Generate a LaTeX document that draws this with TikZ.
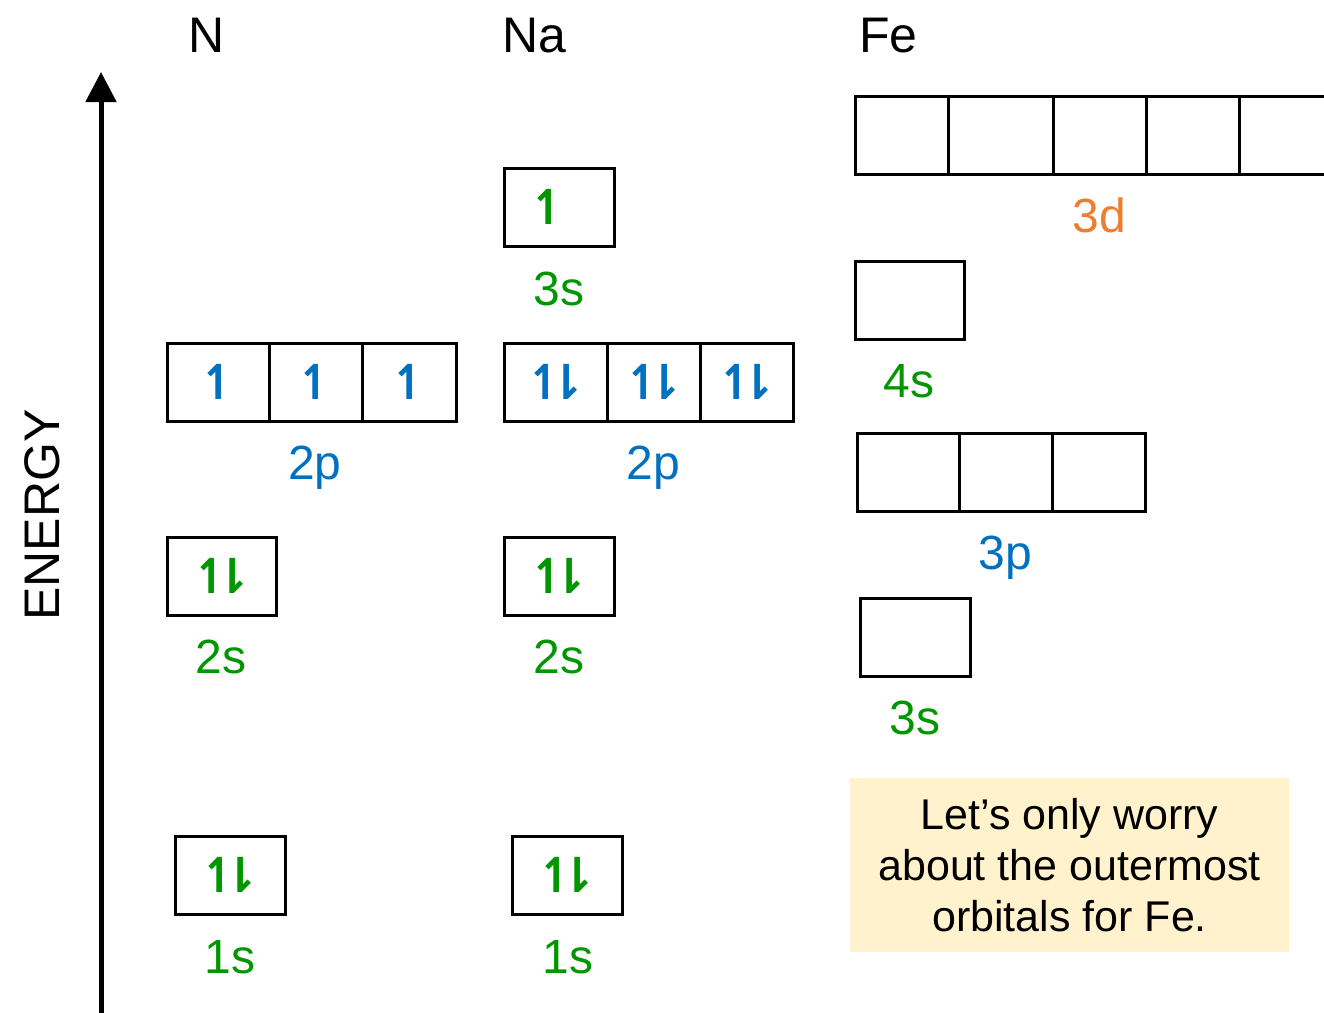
\documentclass[tikz,border=0pt]{standalone}
\usepackage{fontspec}
\setmainfont{Liberation Sans}
\newfontfamily\spinfont{DejaVu Sans Bold}
\usetikzlibrary{arrows.meta}

\definecolor{sgreen}{RGB}{0,150,0}
\definecolor{pblue}{RGB}{0,112,192}
\definecolor{dorange}{RGB}{237,125,49}
\definecolor{notefill}{RGB}{255,242,204}

\newcommand{\spinup}{↿}
\newcommand{\spinpair}{↿\kern-0.4em⇂}
\newcommand{\spinleft}{↿\kern-0.4em\phantom{⇂}}

\begin{document}
\begin{tikzpicture}[x=1pt,y=-1pt,
	orb/.style={draw, line width=2.5pt, minimum height=78pt, inner sep=0pt, anchor=north west,
		font=\spinfont\fontsize{48}{52}\selectfont},
	lbl/.style={font=\fontsize{48}{52}\selectfont, inner sep=0pt, anchor=base},
	elem/.style={font=\fontsize{50}{54}\selectfont, inner sep=0pt, anchor=base west}]
	\useasboundingbox (0,0) rectangle (1324,1012);

	% Energy axis
	\coordinate (axbot) at (101,1015);
	\coordinate (axtop) at (101,72);
	\draw [line width=5pt, -{Triangle[width=30pt,length=30pt]}] (axbot) -- (axtop);
	\node [rotate=90, font=\fontsize{50}{54}\selectfont, inner sep=0pt] (energy) at (42,515) {ENERGY};

	% Element names
	\node [elem] (nameN) at (188,52) {N};
	\node [elem] (nameNa) at (502,52) {Na};
	\node [elem] (nameFe) at (859,52) {Fe};

	% N
	\node [orb, minimum width=102pt, text=pblue] (n2pa) at (166,342) {\spinup};
	\node [orb, minimum width=93pt, text=pblue] (n2pb) at (268,342) {\spinup};
	\node [orb, minimum width=94pt, text=pblue] (n2pc) at (361,342) {\spinup};
	\node [lbl, text=pblue] (n2p) at (315,479) {2p};
	\node [orb, minimum width=109pt, text=sgreen] (n2sbox) at (166,536) {\spinpair};
	\node [lbl, text=sgreen] (n2s) at (221,673) {2s};
	\node [orb, minimum width=110pt, text=sgreen] (n1sbox) at (174,835) {\spinpair};
	\node [lbl, text=sgreen] (n1s) at (230,973) {1s};

	% Na
	\node [orb, minimum width=110pt, text=sgreen] (na3sbox) at (503,167) {\spinleft};
	\node [lbl, text=sgreen] (na3s) at (559,305) {3s};
	\node [orb, minimum width=103pt, text=pblue] (na2pa) at (503,342) {\spinpair};
	\node [orb, minimum width=93pt, text=pblue] (na2pb) at (606,342) {\spinpair};
	\node [orb, minimum width=93pt, text=pblue] (na2pc) at (699,342) {\spinpair};
	\node [lbl, text=pblue] (na2p) at (653,479) {2p};
	\node [orb, minimum width=110pt, text=sgreen] (na2sbox) at (503,536) {\spinpair};
	\node [lbl, text=sgreen] (na2s) at (559,673) {2s};
	\node [orb, minimum width=110pt, text=sgreen] (na1sbox) at (511,835) {\spinpair};
	\node [lbl, text=sgreen] (na1s) at (568,973) {1s};

	% Fe (outer orbitals only)
	\foreach \x/\w [count=\i] in {854/93,947/105,1052/93,1145/93,1238/100} {
		\node [orb, minimum width=\w pt] (fe3d\i) at (\x,95) {};
	}
	\node [lbl, text=dorange] (fe3d) at (1099,232) {3d};
	\node [orb, minimum width=109pt] (fe4sbox) at (854,260) {};
	\node [lbl, text=sgreen] (fe4s) at (909,397) {4s};
	\foreach \x/\w [count=\i] in {856/102,958/93,1051/93} {
		\node [orb, minimum width=\w pt] (fe3p\i) at (\x,432) {};
	}
	\node [lbl, text=pblue] (fe3p) at (1005,569) {3p};
	\node [orb, minimum width=110pt] (fe3sbox) at (859,597) {};
	\node [lbl, text=sgreen] (fe3s) at (915,734) {3s};

	% Note
	\node [fill=notefill, minimum width=439pt, minimum height=174pt, inner sep=0pt, align=center,
		font=\fontsize{43}{51}\selectfont] (note) at (1069.5,865) {Let’s only worry\\about the outermost\\orbitals for Fe.};
\end{tikzpicture}
\end{document}
